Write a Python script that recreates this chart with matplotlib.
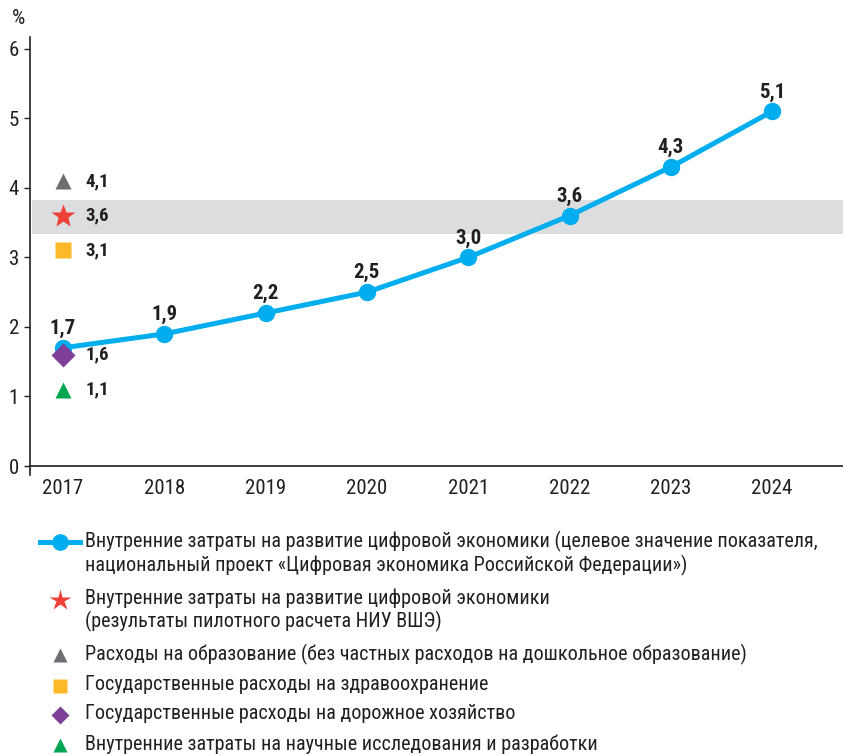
import matplotlib
matplotlib.use("Agg")
import matplotlib.pyplot as plt
from matplotlib.lines import Line2D
from matplotlib import font_manager

available = {f.name for f in font_manager.fontManager.ttflist}
main_font = next((f for f in ['Roboto Condensed', 'PT Sans Narrow', 'Liberation Sans Narrow',
                              'Fira Sans Condensed'] if f in available), 'DejaVu Sans')
plt.rcParams['font.family'] = [main_font, 'DejaVu Sans']

# data
years = [2017, 2018, 2019, 2020, 2021, 2022, 2023, 2024]
target = [1.7, 1.9, 2.2, 2.5, 3.0, 3.6, 4.3, 5.1]

# single 2017 indicators, in legend order
single_x = 2017
single_vals = [3.6, 4.1, 3.1, 1.6, 1.1]
single_markers = ['*', '^', 's', 'D', '^']
single_colors = ['#ef4136', '#6d6e71', '#fdb927', '#7d3f98', '#00a651']
single_sizes = [18, 11, 11, 12, 11]
legend_sizes = [16, 10, 10, 9, 10]

band = (3.34, 3.82)

legend_labels = [
    "Внутренние затраты на развитие цифровой экономики (целевое значение показателя,\n"
    "национальный проект «Цифровая экономика Российской Федерации»)",
    "Внутренние затраты на развитие цифровой экономики\n(результаты пилотного расчета НИУ ВШЭ)",
    "Расходы на образование (без частных расходов на дошкольное образование)",
    "Государственные расходы на здравоохранение",
    "Государственные расходы на дорожное хозяйство",
    "Внутренние затраты на научные исследования и разработки",
]

line_color = '#00aeef'
text_color = '#231f20'

def fmt(v):
    return f"{v:.1f}".replace('.', ',')

fig = plt.figure(figsize=(8.43, 7.56), dpi=100)
ax = fig.add_axes([30/843, 1 - 466/756, 1 - 30/843, (466 - 37)/756])
ax.set_xlim(2016.674, 2024.70)
ax.set_ylim(0, 6.17)

ax.axhspan(band[0], band[1], xmin=0.003, xmax=1, color='#dcddde', zorder=0, lw=0)

ax.plot(years, target, color=line_color, lw=3.6, marker='o', ms=11.5, zorder=3)
for x, v in zip(years, target):
    ax.annotate(fmt(v), (x, v), xytext=(0, 14), textcoords='offset points',
                ha='center', va='center', fontsize=15, fontweight='bold', color=text_color)

for v, m, c, s in zip(single_vals, single_markers, single_colors, single_sizes):
    ax.plot([single_x], [v], marker=m, color=c, ms=s, ls='none', zorder=4, mec='none')
    ax.annotate(fmt(v), (single_x, v), xytext=(16, 0), textcoords='offset points',
                ha='left', va='center', fontsize=13.5, fontweight='bold', color=text_color)

for side in ['top', 'right']:
    ax.spines[side].set_visible(False)
for side in ['left', 'bottom']:
    ax.spines[side].set_color(text_color)
    ax.spines[side].set_linewidth(1.2)
ax.spines['left'].set_bounds(-0.13, 6.17)

ax.set_xticks(years)
ax.set_xticklabels([str(y) for y in years])
ax.set_yticks(range(0, 7))
ax.tick_params(axis='x', length=0, pad=9, labelsize=15, colors=text_color)
ax.tick_params(axis='y', length=4, width=1, pad=4, labelsize=15, colors=text_color)
fig.text(12/843, 1 - 18/756, '%', ha='left', va='center', fontsize=15, color=text_color)

# legend (drawn manually)
leg_y = [542, 600, 655, 686, 715, 745]
for i, (lab, yy) in enumerate(zip(legend_labels, leg_y)):
    fy = 1 - yy / 756
    if i == 0:
        fig.add_artist(Line2D([40/843, 80/843], [fy, fy], color=line_color, lw=3.6,
                              transform=fig.transFigure))
        fig.add_artist(Line2D([60/843], [fy], color=line_color, marker='o', ms=11,
                              transform=fig.transFigure))
    else:
        k = i - 1
        fig.add_artist(Line2D([60/843], [fy], marker=single_markers[k], color=single_colors[k],
                              ms=legend_sizes[k], mec='none', ls='none',
                              transform=fig.transFigure))
    fig.text(85/843, fy + 11/756, lab, ha='left', va='top', fontsize=14.5,
             color=text_color, linespacing=1.15)

fig.savefig('out.png', dpi=100)
